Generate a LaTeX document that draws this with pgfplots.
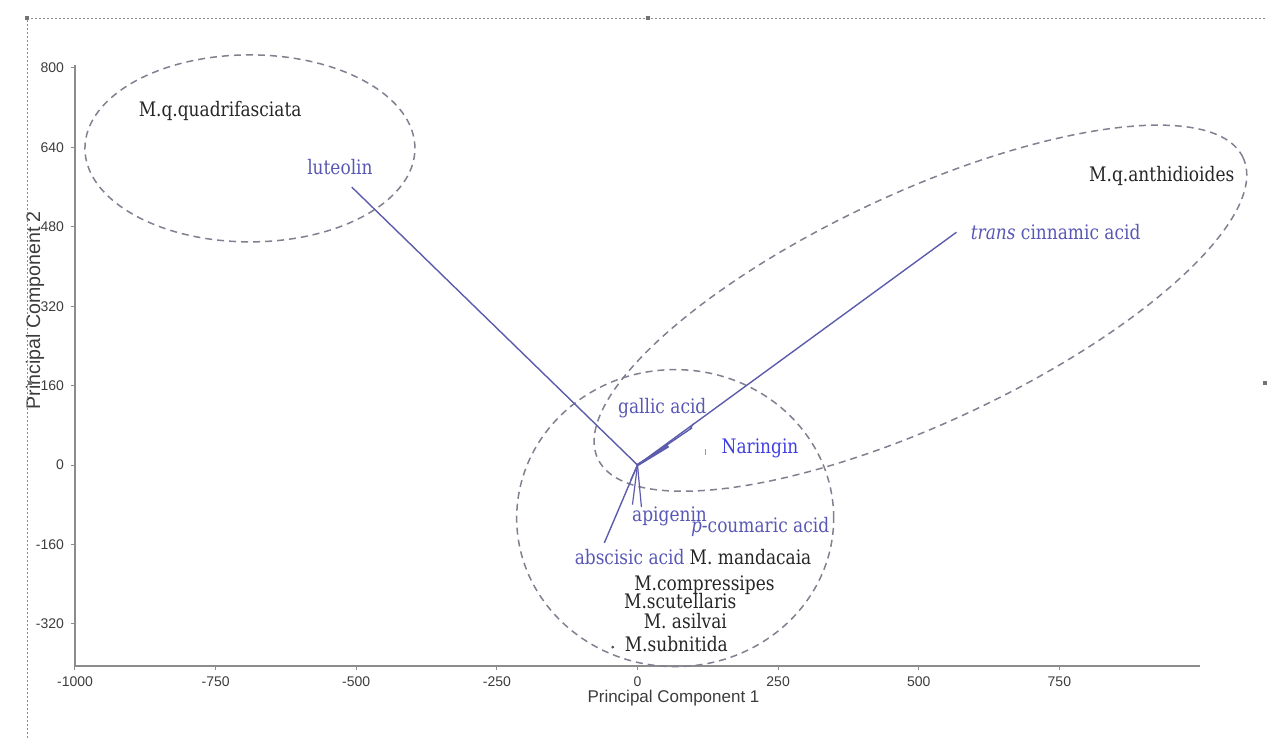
\documentclass[border=0pt]{standalone}
\usepackage{pgfplots}
\pgfplotsset{compat=1.18}
\usepackage{fontspec}
\setmainfont{DejaVu Serif}[FakeStretch=0.85]
\newfontfamily\axisfont{Liberation Sans}

\definecolor{vecline}{RGB}{92,92,172}
\definecolor{veclabel}{RGB}{88,88,180}
\definecolor{narcol}{RGB}{64,64,224}
\definecolor{grpline}{RGB}{128,128,144}
\definecolor{axgray}{RGB}{140,140,140}
\definecolor{ticktext}{RGB}{60,60,60}

\begin{document}
\begin{tikzpicture}
\begin{axis}[
    at={(0,0)}, anchor=south west,
    scale only axis,
    width=562.5pt, height=300.5pt,
    xmin=-1000, xmax=1000,
    ymin=-405, ymax=806,
    axis x line*=bottom,
    axis y line*=left,
    axis line style={axgray, line width=1.1pt},
    xtick={-1000,-750,-500,-250,0,250,500,750},
    ytick={-320,-160,0,160,320,480,640,800},
    tick align=outside,
    major tick length=2pt,
    tick style={axgray, line width=0.5pt},
    /pgf/number format/assume math mode=true,
    /pgf/number format/1000 sep={},
    ticklabel style={font=\axisfont\fontsize{7}{8}\selectfont, text=ticktext},
    xlabel={Principal Component 1},
    ylabel={Principal Component 2},
    xlabel style={font=\axisfont\fontsize{8.5}{10}\selectfont, text=ticktext,
                  at={(axis description cs:0.532,-0.053)}, anchor=center},
    ylabel style={font=\axisfont\fontsize{9.8}{11}\selectfont, text=ticktext,
                  at={(axis description cs:-0.0356,0.592)}, anchor=center, rotate=0},
    clip=false,
]

% group ellipses
\draw[grpline, line width=0.75pt, dash pattern=on 3.5pt off 2.5pt]
    (axis cs:-689,638) ellipse [x radius=82.5pt, y radius=46.75pt];
\draw[grpline, line width=0.75pt, dash pattern=on 3.5pt off 2.5pt]
    (axis cs:67,-107) ellipse [x radius=79.25pt, y radius=74.25pt];
\draw[grpline, line width=0.75pt, dash pattern=on 3.5pt off 2.5pt,
      rotate around={25:(axis cs:503,316)}]
    (axis cs:503,316) ellipse [x radius=178pt, y radius=57.5pt];

% loading vectors
\addplot[vecline, line width=0.7pt] coordinates {(0,0) (-508,560)};
\addplot[vecline, line width=0.7pt] coordinates {(0,0) (567,469)};
\addplot[vecline, line width=0.7pt] coordinates {(0,0) (97,75)};
\addplot[vecline, line width=1.3pt] coordinates {(0,0) (55,38)};
\addplot[vecline, line width=0.6pt] coordinates {(0,0) (-9,-80)};
\addplot[vecline, line width=0.6pt] coordinates {(0,0) (7,-85)};
\addplot[vecline, line width=0.7pt] coordinates {(0,0) (-59,-157)};
\addplot[vecline, line width=0.6pt] coordinates {(0,0) (-12,-30)};
\addplot[vecline, line width=0.6pt] coordinates {(93,72) (100,84)};
\addplot[magenta!60, line width=0.4pt] coordinates {(121,20) (121,32)};
\addplot[only marks, mark=*, mark size=0.5pt, black!70] coordinates {(-44,-367)};

% variable labels
\begingroup
\fontsize{7.4}{9}\selectfont
\node[text=veclabel] at (axis cs:-529,600) {luteolin};
\node[text=veclabel, anchor=west] at (axis cs:580,469) {\textit{trans} cinnamic acid};
\node[text=veclabel] at (axis cs:44,115) {gallic acid};
\node[text=narcol, anchor=west] at (axis cs:137,34) {Naringin};
\node[text=veclabel] at (axis cs:57,-104) {apigenin};
\node[text=veclabel] at (axis cs:218,-125) {\textit{p}-coumaric acid};
\node[text=veclabel] at (axis cs:-14,-185) {abscisic acid};
\endgroup

% group labels
\begingroup
\fontsize{7.4}{9}\selectfont
\node[text=black!85] at (axis cs:-742,713) {M.q.quadrifasciata};
\node[text=black!85] at (axis cs:932,582) {M.q.anthidioides};
\node[text=black!85] at (axis cs:201,-185) {M. mandacaia};
\node[text=black!85] at (axis cs:119,-242) {M.compressipes};
\node[text=black!85] at (axis cs:76,-274) {M.scutellaris};
\node[text=black!85] at (axis cs:85,-314) {M. asilvai};
\node[text=black!85] at (axis cs:69,-361) {M.subnitida};
\endgroup

\end{axis}

% selection frame of the original screenshot
\draw[black!45, line width=0.4pt, dash pattern=on 1pt off 1pt] (-24pt,-36pt) -- (-24pt,324pt) -- (596pt,324pt);
\fill[black!55] (-25.2pt,322.8pt) rectangle (-22.8pt,325.2pt);
\fill[black!55] (285.3pt,322.8pt) rectangle (287.7pt,325.2pt);
\fill[black!55] (-23.7pt,140.3pt) rectangle (-21.3pt,142.7pt);
\fill[black!55] (593.8pt,140.3pt) rectangle (596pt,142.7pt);

\pgfresetboundingbox
\path[use as bounding box] (-37.5pt,-36pt) rectangle (596pt,333pt);
\end{tikzpicture}
\end{document}
